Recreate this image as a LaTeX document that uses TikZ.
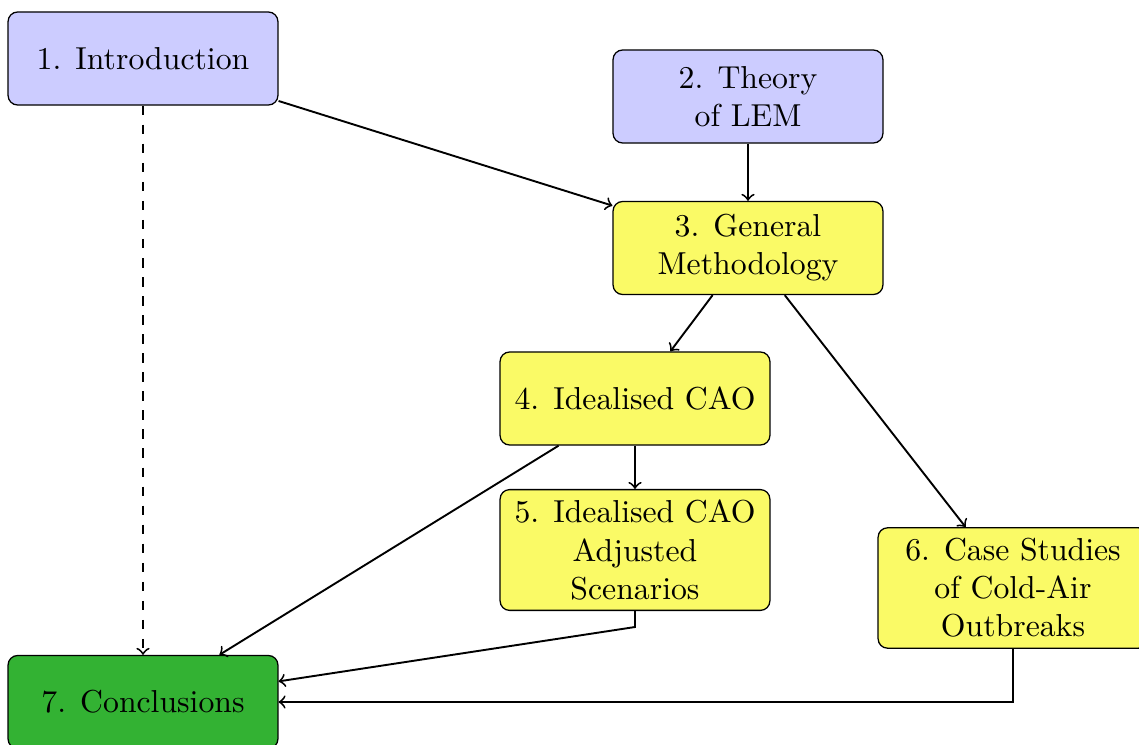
\documentclass[tikz,border=0pt]{standalone}
\definecolor{nodeblue}{RGB}{204,204,255}
\definecolor{nodeyellow}{RGB}{250,250,102}
\definecolor{nodegreen}{RGB}{51,178,51}
\begin{document}
\begin{tikzpicture}[x=0.315pt,y=-0.315pt,
  box/.style={draw=black, rounded corners=3pt, minimum width=85pt, minimum height=29.3pt, align=center, inner sep=3.33pt},
  introbox/.style={box, fill=nodeblue},
  mainbox/.style={box, fill=nodeyellow},
  endbox/.style={box, fill=nodegreen},
  conn/.style={->, semithick}]
\useasboundingbox (0,0) rectangle (1139,745);
\node[introbox] (n1) at (143,58.5) {1. Introduction};
\node[introbox] (n2) at (748,96.5) {2. Theory\\of LEM};
\node[mainbox] (n3) at (748,248) {3. General\\Methodology};
\node[mainbox] (n4) at (635,398.5) {4. Idealised CAO};
\node[mainbox, minimum height=37.8pt] (n5) at (635,550) {5. Idealised CAO\\Adjusted\\Scenarios};
\node[mainbox, minimum height=37.8pt] (n6) at (1013,588) {6. Case Studies\\of Cold-Air\\Outbreaks};
\node[endbox] (n7) at (143,702) {7. Conclusions};
\draw[conn] (n1) -- (n3);
\draw[conn, dashed] (n1) -- (n7);
\draw[conn] (n2) -- (n3);
\draw[conn] (n3) -- (n4);
\draw[conn] (n3) -- (n6);
\draw[conn] (n4) -- (n5);
\draw[conn] (n4) -- (n7);
\draw[conn] (n5.south) -- ++(0,16) coordinate (k5) -- (n7);
\draw[conn] (n6.south) |- (n7.east);
\end{tikzpicture}
\end{document}
